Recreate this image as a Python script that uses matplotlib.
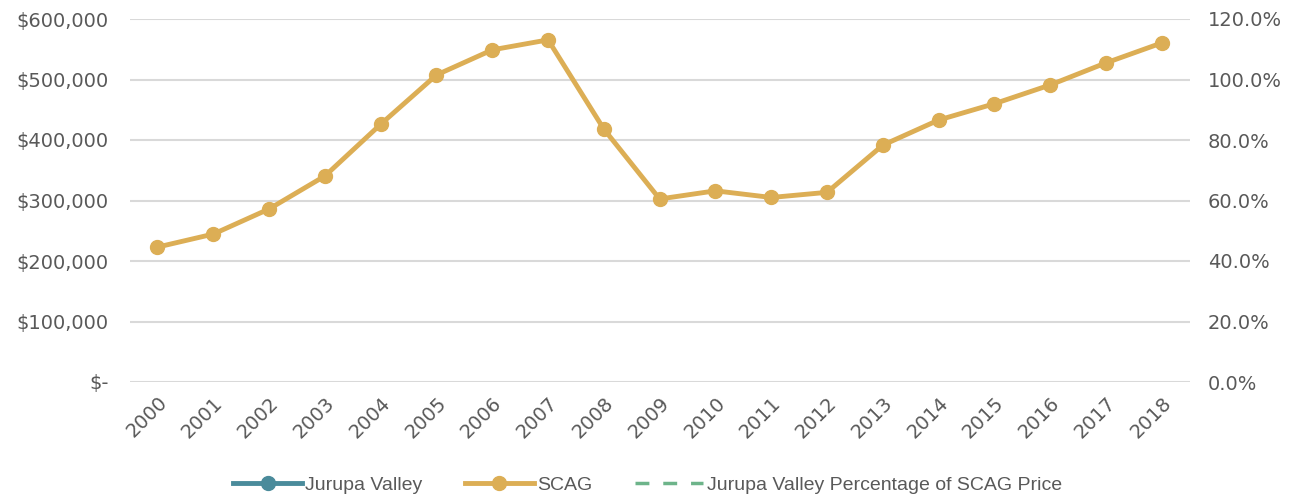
import numpy as np
import matplotlib.pyplot as plt
from matplotlib.ticker import FuncFormatter

years = [str(y) for y in range(2000, 2019)]
scag = [223000, 244500, 286000, 340500, 426000, 507500, 549000, 565500, 418000,
        302500, 316000, 305000, 313500, 391500, 433000, 460000, 491000, 527500, 560500]
jurupa = []
pct = []

plt.rcParams['font.family'] = ['DejaVu Sans']
grey = '#595959'

fig = plt.figure(figsize=(12.96, 5.0), dpi=100)
ax = fig.add_axes([0.1, 0.236, 0.818, 0.726])
ax2 = ax.twinx()

x = np.arange(len(years))
l1, = ax.plot(jurupa, jurupa, color='#4a8b9b', lw=3.5, marker='o', ms=10,
              label='Jurupa Valley')
l2, = ax.plot(x, scag, color='#dcae55', lw=3.5, marker='o', ms=10,
              label='SCAG', zorder=3)
l3, = ax2.plot(pct, pct, color='#6db48a', lw=2.5, ls=(0, (4, 4)),
               label='Jurupa Valley Percentage of SCAG Price')

ax.set_xlim(-0.5, len(years) - 0.5)
ax.set_ylim(0, 600000)
ax.set_yticks(np.arange(0, 600001, 100000))
ax.yaxis.set_major_formatter(FuncFormatter(
    lambda v, p: '$-' if v == 0 else '${:,.0f}'.format(v)))
ax2.set_ylim(0, 1.2)
ax2.set_yticks(np.arange(0, 1.21, 0.2))
ax2.yaxis.set_major_formatter(FuncFormatter(lambda v, p: '{:.1f}%'.format(v * 100)))

ax.set_xticks(x)
ax.set_xticklabels(years, rotation=45, ha='right', rotation_mode='anchor')

ax.grid(axis='y', color='#d9d9d9', lw=1.5)
ax.set_axisbelow(True)
for a in (ax, ax2):
  for s in a.spines.values():
    s.set_visible(False)
  a.tick_params(length=0, labelsize=14, colors=grey)
ax.tick_params(axis='y', pad=15)
ax2.tick_params(axis='y', pad=13)
ax.tick_params(axis='x', pad=8)

fig.legend(handles=[l1, l2, l3], loc='center', bbox_to_anchor=(0.5, 0.03),
           ncol=3, frameon=False,
           prop={'family': 'Liberation Sans', 'size': 14},
           handlelength=3.5, columnspacing=2.2, labelcolor=grey,
           handletextpad=0.2)

fig.savefig('out.png', dpi=100)
